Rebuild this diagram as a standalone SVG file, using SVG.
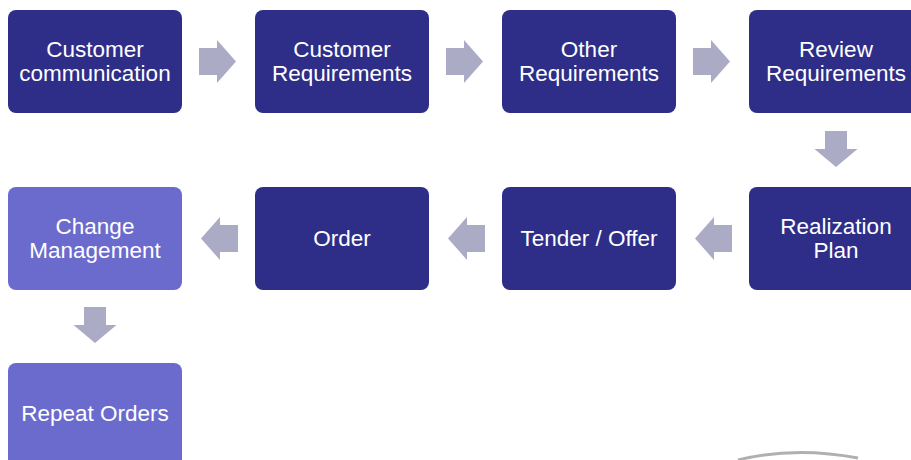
<svg xmlns="http://www.w3.org/2000/svg" width="911" height="460" viewBox="0 0 911 460">
<defs>
<style>
.dk{fill:#2E2E88}
.lt{fill:#6B6BCE}
.t{font-family:"Liberation Sans",Arial,sans-serif;font-size:22.5px;fill:#FFFFFF;text-anchor:middle}
.ar{fill:#ABABC6}
</style>
<path id="arR" d="M0,-13.5 H18 V-21.5 L37,0 L18,21.5 V13.5 H0 Z"/>
<path id="arL" d="M0,-13.5 H-18 V-21.5 L-37,0 L-18,21.5 V13.5 H0 Z"/>
<path id="arD" d="M-11,0 V18 H-21.5 L0,36 L21.5,18 H11 V0 Z"/>
</defs>
<rect width="911" height="460" fill="#FFFFFF"/>
<g id="connectors" class="ar">
<use href="#arR" x="199" y="61.5"/>
<use href="#arR" x="446" y="61.5"/>
<use href="#arR" x="693" y="61.5"/>
<use href="#arD" x="836" y="131"/>
<use href="#arL" x="732" y="238.5"/>
<use href="#arL" x="485" y="238.5"/>
<use href="#arL" x="238" y="238.5"/>
<use href="#arD" x="95" y="307"/>
</g>
<g id="n1"><rect class="dk" x="8" y="10" width="174" height="103" rx="8"/><text class="t" x="95" y="57">Customer</text><text class="t" x="95" y="81">communication</text></g>
<g id="n2"><rect class="dk" x="255" y="10" width="174" height="103" rx="8"/><text class="t" x="342" y="57">Customer</text><text class="t" x="342" y="81">Requirements</text></g>
<g id="n3"><rect class="dk" x="502" y="10" width="174" height="103" rx="8"/><text class="t" x="589" y="57">Other</text><text class="t" x="589" y="81">Requirements</text></g>
<g id="n4"><rect class="dk" x="749" y="10" width="174" height="103" rx="8"/><text class="t" x="836" y="57">Review</text><text class="t" x="836" y="81">Requirements</text></g>
<g id="n5"><rect class="dk" x="749" y="187" width="174" height="103" rx="8"/><text class="t" x="836" y="234">Realization</text><text class="t" x="836" y="258">Plan</text></g>
<g id="n6"><rect class="dk" x="502" y="187" width="174" height="103" rx="8"/><text class="t" x="589" y="246">Tender / Offer</text></g>
<g id="n7"><rect class="dk" x="255" y="187" width="174" height="103" rx="8"/><text class="t" x="342" y="246">Order</text></g>
<g id="n8"><rect class="lt" x="8" y="187" width="174" height="103" rx="8"/><text class="t" x="95" y="234">Change</text><text class="t" x="95" y="258">Management</text></g>
<g id="n9"><rect class="lt" x="8" y="363" width="174" height="110" rx="8"/><text class="t" x="95" y="421">Repeat Orders</text></g>
<path d="M738,460 Q795,446 858,458" fill="none" stroke="#B0B0B0" stroke-width="3"/>
</svg>
